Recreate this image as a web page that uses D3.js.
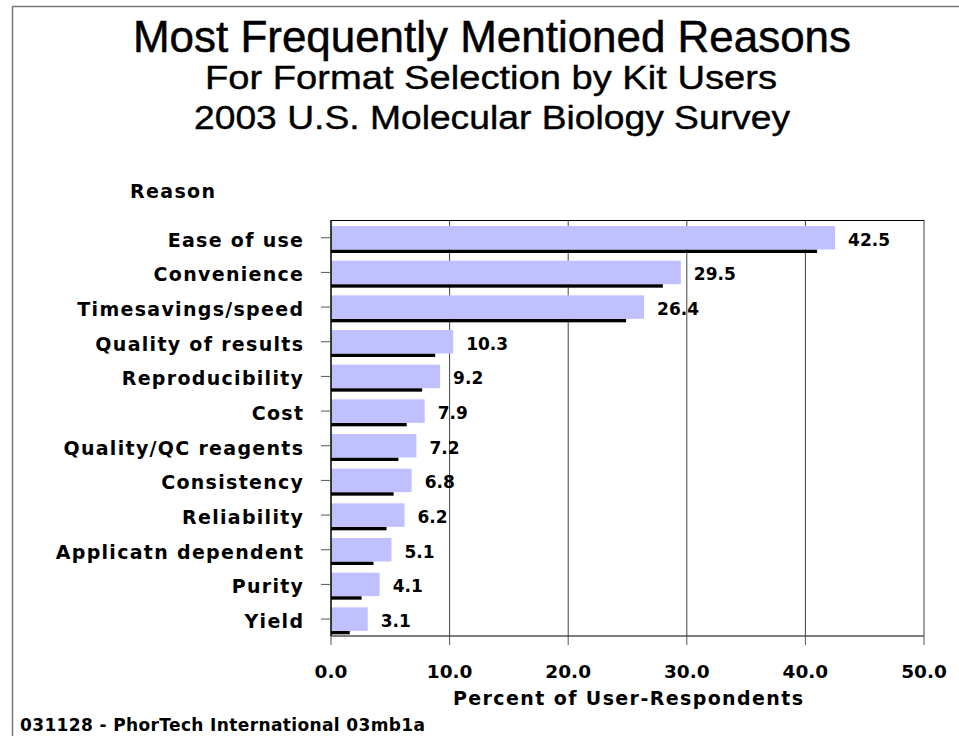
<!DOCTYPE html>
<html>
<head>
<meta charset="utf-8">
<script src="https://cdn.jsdelivr.net/npm/d3@7"></script>
<style>
  body { margin: 0; background: #fff; }
  text { font-family: "Liberation Sans", Arial, sans-serif; fill: #000; }
  .bold { font-family: "DejaVu Sans", sans-serif; font-weight: bold; }
</style>
</head>
<body>
<div id="chartContainer"></div>
<script>
const width = 959;
const height = 736;

// data
const reasons = ["Ease of use", "Convenience", "Timesavings/speed", "Quality of results",
                 "Reproducibility", "Cost", "Quality/QC reagents", "Consistency",
                 "Reliability", "Applicatn dependent", "Purity", "Yield"];
const percents = [42.5, 29.5, 26.4, 10.3, 9.2, 7.9, 7.2, 6.8, 6.2, 5.1, 4.1, 3.1];
const xTicks = [0, 10, 20, 30, 40, 50];

const titles = ["Most Frequently Mentioned Reasons",
                "For Format Selection by Kit Users",
                "2003 U.S. Molecular Biology Survey"];

const data = reasons.map((r, i) => ({ reason: r, value: percents[i] }));

let svg = d3.select("#chartContainer")
    .append("svg")
    .attr("width", width)
    .attr("height", height);

// outer frame (top + left only)
svg.append("path")
    .attr("d", "M12.5,736 L12.5,6.5 L959,6.5")
    .attr("fill", "none")
    .attr("stroke", "#777")
    .attr("stroke-width", 1.5);

// titles
svg.append("text")
    .attr("x", 492).attr("y", 52)
    .attr("text-anchor", "middle")
    .attr("font-size", 44)
    .attr("stroke", "#000").attr("stroke-width", 0.5)
    .attr("textLength", 718).attr("lengthAdjust", "spacingAndGlyphs")
    .text(titles[0]);
svg.append("text")
    .attr("x", 491).attr("y", 89)
    .attr("text-anchor", "middle")
    .attr("font-size", 33)
    .attr("stroke", "#000").attr("stroke-width", 0.4)
    .attr("textLength", 572).attr("lengthAdjust", "spacingAndGlyphs")
    .text(titles[1]);
svg.append("text")
    .attr("x", 492).attr("y", 129)
    .attr("text-anchor", "middle")
    .attr("font-size", 33)
    .attr("stroke", "#000").attr("stroke-width", 0.4)
    .attr("textLength", 596).attr("lengthAdjust", "spacingAndGlyphs")
    .text(titles[2]);

const plotL = 331, plotR = 924, plotT = 220, plotB = 636;

let xScale = d3.scaleLinear().domain([0, 50]).range([plotL, plotR]);
let yScale = d3.scaleBand().domain(reasons).range([plotT, plotB]).padding(0);

// gridlines
svg.selectAll(".grid")
    .data(xTicks.slice(1))
    .enter()
    .append("line")
    .attr("class", "grid")
    .attr("x1", (d) => xScale(d)).attr("x2", (d) => xScale(d))
    .attr("y1", plotT).attr("y2", plotB)
    .attr("stroke", "#444")
    .attr("stroke-width", 1);

// top border of plot
svg.append("line")
    .attr("x1", plotL).attr("x2", plotR)
    .attr("y1", plotT + 0.5).attr("y2", plotT + 0.5)
    .attr("stroke", "#000").attr("stroke-width", 1.2);

const barTop = 6, barH = 23.5, shadowH = 3.5, shadowShift = 18;

// shadow strips
svg.selectAll(".shadow")
    .data(data)
    .enter()
    .append("rect")
    .attr("class", "shadow")
    .attr("x", xScale(0))
    .attr("y", (d) => yScale(d.reason) + barTop + barH)
    .attr("width", (d) => Math.max(0, xScale(d.value) - xScale(0) - shadowShift))
    .attr("height", shadowH)
    .attr("fill", "#000");

// bars
svg.selectAll(".bar")
    .data(data)
    .enter()
    .append("rect")
    .attr("class", "bar")
    .attr("x", xScale(0))
    .attr("y", (d) => yScale(d.reason) + barTop)
    .attr("width", (d) => xScale(d.value) - xScale(0))
    .attr("height", barH)
    .attr("fill", "#c0c0ff");

// value labels
svg.selectAll(".val")
    .data(data)
    .enter()
    .append("text")
    .attr("class", "val bold")
    .attr("x", (d) => xScale(d.value) + 13)
    .attr("y", (d) => yScale(d.reason) + barTop + barH / 2 + 8)
    .attr("font-size", 17)
    .text((d) => d.value.toFixed(1));

// y axis line + ticks
svg.append("line")
    .attr("x1", plotL).attr("x2", plotL)
    .attr("y1", plotT).attr("y2", plotB)
    .attr("stroke", "#000").attr("stroke-width", 1.5);

svg.selectAll(".ytick")
    .data(reasons)
    .enter()
    .append("line")
    .attr("class", "ytick")
    .attr("x1", plotL - 10).attr("x2", plotL)
    .attr("y1", (d) => yScale(d) + barTop + barH / 2)
    .attr("y2", (d) => yScale(d) + barTop + barH / 2)
    .attr("stroke", "#555");

svg.selectAll(".ylab")
    .data(reasons)
    .enter()
    .append("text")
    .attr("class", "ylab bold")
    .attr("x", 304.3)
    .attr("y", (d) => yScale(d) + barTop + barH / 2 + 9)
    .attr("text-anchor", "end")
    .attr("font-size", 19)
    .attr("letter-spacing", 1.3)
    .text((d) => d);

svg.append("text")
    .attr("class", "bold")
    .attr("x", 130).attr("y", 198)
    .attr("font-size", 19)
    .attr("textLength", 85).attr("lengthAdjust", "spacing")
    .text("Reason");

// x axis
svg.append("line")
    .attr("x1", plotL).attr("x2", plotR)
    .attr("y1", plotB).attr("y2", plotB)
    .attr("stroke", "#000").attr("stroke-width", 1.2);

svg.selectAll(".xtick")
    .data(xTicks)
    .enter()
    .append("line")
    .attr("class", "xtick")
    .attr("x1", (d) => xScale(d)).attr("x2", (d) => xScale(d))
    .attr("y1", plotB).attr("y2", plotB + 9)
    .attr("stroke", "#555");

svg.selectAll(".xlab")
    .data(xTicks)
    .enter()
    .append("text")
    .attr("class", "xlab bold")
    .attr("x", (d) => xScale(d))
    .attr("y", 678)
    .attr("text-anchor", "middle")
    .attr("font-size", 18.5)
    .text((d) => d.toFixed(1));

svg.append("text")
    .attr("class", "bold")
    .attr("x", 453).attr("y", 705)
    .attr("font-size", 19)
    .attr("textLength", 350).attr("lengthAdjust", "spacing")
    .text("Percent of User-Respondents");

svg.append("text")
    .attr("class", "bold")
    .attr("x", 20).attr("y", 731)
    .attr("font-size", 17)
    .attr("textLength", 405).attr("lengthAdjust", "spacing")
    .text("031128 - PhorTech International 03mb1a");
</script>
</body>
</html>
